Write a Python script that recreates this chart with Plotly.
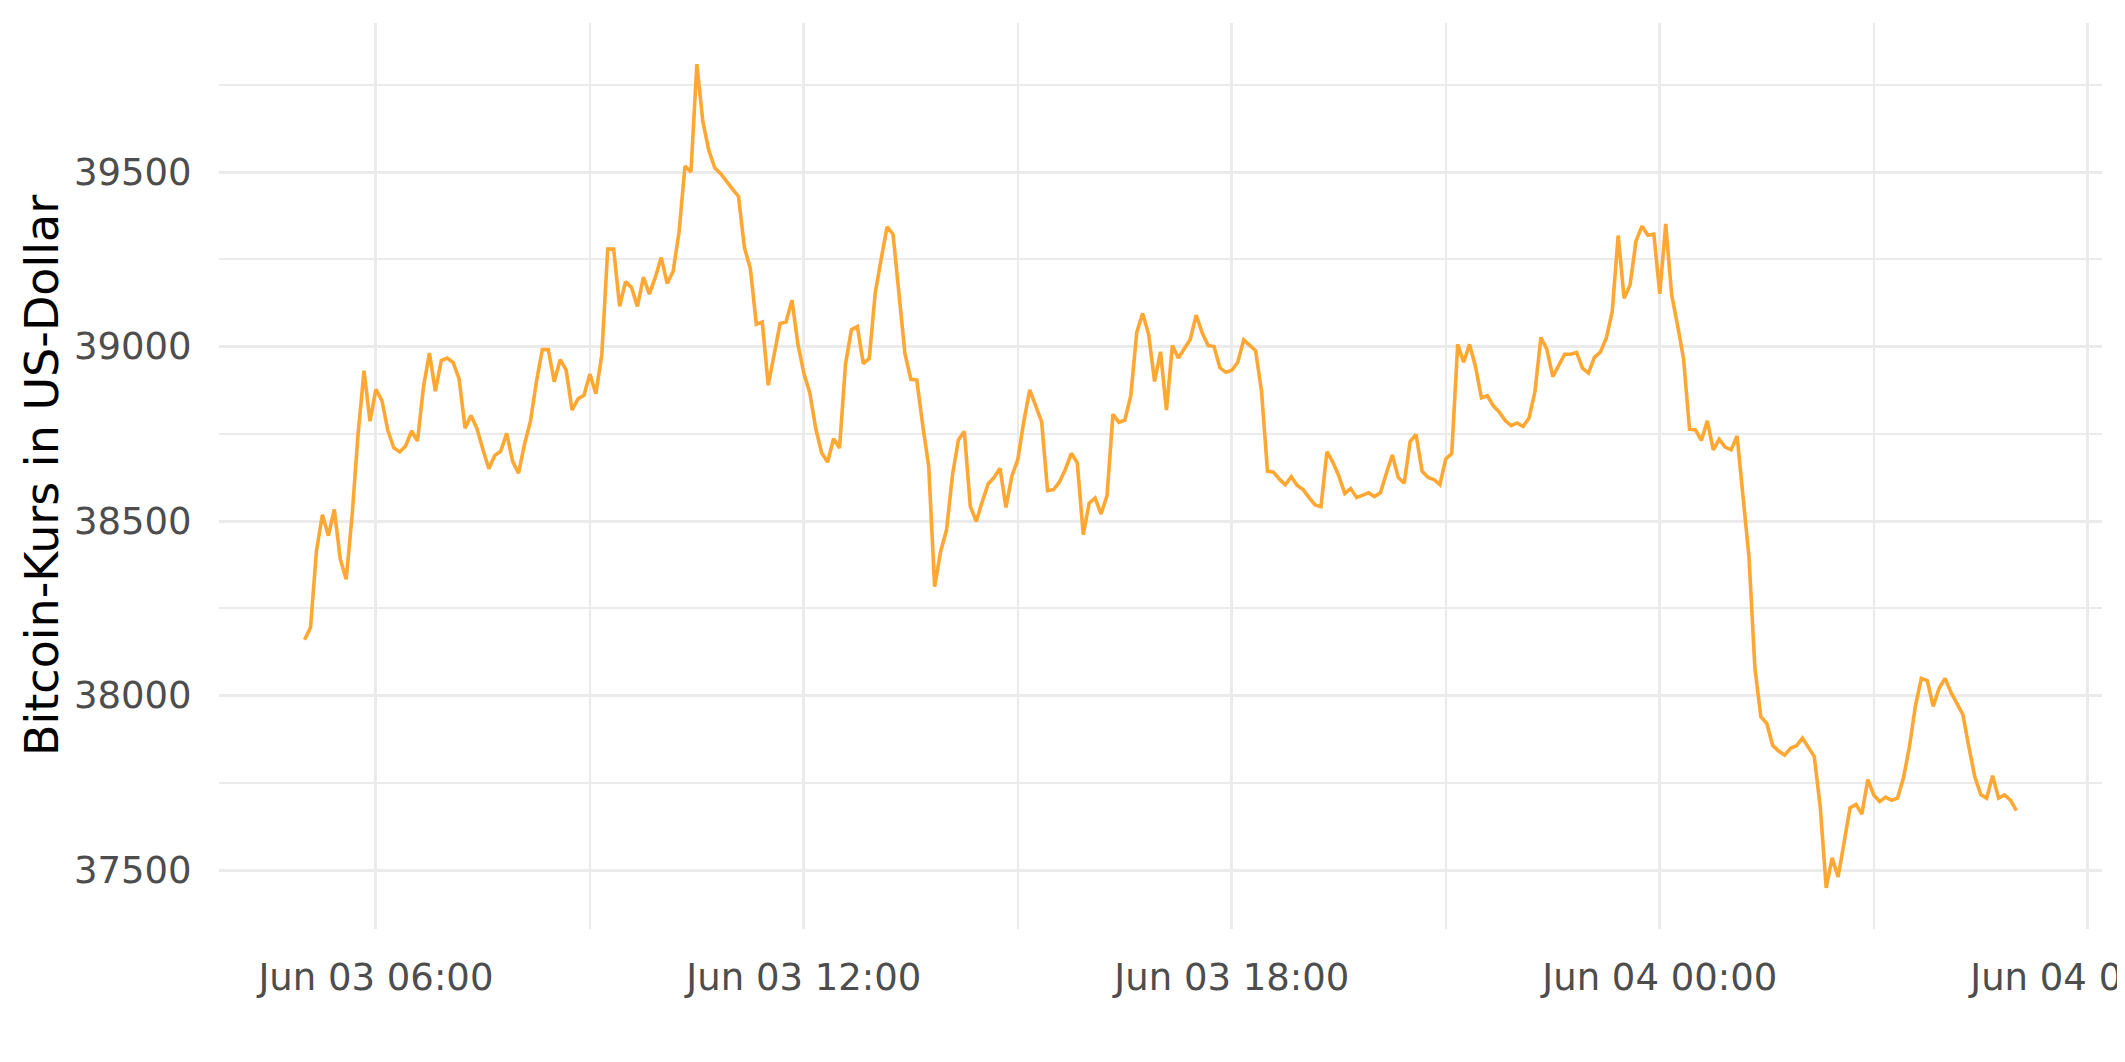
import pandas as pd
import plotly.graph_objects as go

# Bitcoin price (USD), 5-minute steps, 2021-06-03 05:00 .. 2021-06-04 05:00
start_time = "2021-06-03 05:00"
step = "5min"
h05 = [38160, 38195, 38415, 38518, 38458, 38533, 38391, 38333, 38517, 38749, 38931, 38786]
h06 = [38877, 38846, 38760, 38710, 38698, 38715, 38758, 38729, 38884, 38981, 38872, 38960]
h07 = [38967, 38954, 38907, 38766, 38802, 38765, 38705, 38650, 38688, 38700, 38751, 38671]
h08 = [38637, 38720, 38786, 38899, 38991, 38991, 38899, 38962, 38933, 38818, 38850, 38860]
h09 = [38921, 38865, 38976, 39279, 39279, 39115, 39186, 39169, 39115, 39199, 39150, 39198]
h10 = [39255, 39181, 39215, 39328, 39517, 39500, 39809, 39645, 39562, 39512, 39495, 39475]
h11 = [39451, 39430, 39283, 39223, 39064, 39070, 38889, 38977, 39066, 39070, 39133, 39006]
h12 = [38923, 38867, 38765, 38695, 38669, 38736, 38709, 38949, 39048, 39057, 38951, 38966]
h13 = [39153, 39250, 39343, 39322, 39153, 38980, 38906, 38904, 38774, 38657, 38312, 38412]
h14 = [38474, 38632, 38732, 38757, 38542, 38499, 38555, 38606, 38625, 38651, 38539, 38629]
h15 = [38677, 38785, 38876, 38828, 38785, 38587, 38590, 38612, 38648, 38694, 38667, 38461]
h16 = [38551, 38566, 38520, 38573, 38806, 38783, 38789, 38859, 39040, 39095, 39035, 38900]
h17 = [38985, 38818, 39003, 38967, 38994, 39020, 39090, 39040, 39003, 39000, 38939, 38926]
h18 = [38932, 38955, 39019, 39003, 38988, 38871, 38643, 38640, 38620, 38604, 38627, 38602]
h19 = [38590, 38567, 38546, 38541, 38699, 38668, 38629, 38579, 38593, 38567, 38573, 38581]
h20 = [38570, 38581, 38637, 38689, 38625, 38608, 38728, 38748, 38643, 38625, 38619, 38604]
h21 = [38678, 38693, 39006, 38955, 39006, 38942, 38853, 38859, 38830, 38812, 38788, 38773]
h22 = [38781, 38771, 38795, 38871, 39026, 38992, 38914, 38948, 38978, 38978, 38983, 38938]
h23 = [38924, 38969, 38984, 39024, 39100, 39318, 39138, 39176, 39302, 39345, 39319, 39322]
h00 = [39151, 39351, 39148, 39060, 38965, 38763, 38761, 38731, 38787, 38704, 38734, 38712]
h01 = [38704, 38744, 38569, 38398, 38080, 37939, 37920, 37857, 37841, 37829, 37849, 37856]
h02 = [37878, 37849, 37825, 37680, 37449, 37535, 37480, 37578, 37678, 37688, 37660, 37759]
h03 = [37715, 37696, 37709, 37700, 37706, 37764, 37853, 37969, 38049, 38043, 37969, 38021]
h04 = [38049, 38009, 37979, 37945, 37853, 37767, 37716, 37706, 37770, 37706, 37715, 37700]
h05_next = [37670]

prices = (h05 + h06 + h07 + h08 + h09 + h10 + h11 + h12 + h13 + h14 + h15 + h16
          + h17 + h18 + h19 + h20 + h21 + h22 + h23 + h00 + h01 + h02 + h03 + h04 + h05_next)
times = pd.date_range(start_time, periods=len(prices), freq=step)

y_title = "Bitcoin-Kurs in US-Dollar"
y_tick_step = 500
x_tick_step_hours = 6

FONT = "DejaVu Sans"
GRID = "#EBEBEB"

# ggplot-like 5% expansion
t0, t1 = times[0], times[-1]
tpad = (t1 - t0) * 0.05
ymin, ymax = min(prices), max(prices)
ypad = (ymax - ymin) * 0.05

fig = go.Figure()
fig.add_trace(go.Scatter(
    x=times, y=prices, mode="lines",
    line=dict(color="#FFA733", width=3.6),
    hoverinfo="x+y", showlegend=False,
))

# page body has an 8px default margin: size the figure to fill the rest
W, H = 2117, 1054
ml, mr, mt, mb = 211, 23, 15, 133

fig.update_layout(
    width=W, height=H,
    margin=dict(l=ml, r=mr, t=mt, b=mb, autoexpand=False),
    paper_bgcolor="white", plot_bgcolor="white",
    font=dict(family=FONT, color="#4D4D4D"),
    showlegend=False,
)

fig.update_xaxes(
    type="date",
    range=[t0 - tpad, t1 + tpad],
    tick0="2021-06-03 00:00", dtick=x_tick_step_hours * 3600 * 1000,
    tickformat="%b %d %H:%M",
    tickfont=dict(size=37, color="#4D4D4D", family=FONT),
    ticks="outside", ticklen=16, tickcolor="rgba(0,0,0,0)",
    showgrid=True, gridcolor=GRID, gridwidth=3.2,
    minor=dict(dtick=x_tick_step_hours / 2 * 3600 * 1000, showgrid=True,
               gridcolor=GRID, gridwidth=1.7, ticks=""),
    zeroline=False, showline=False,
    ticklabeloverflow="allow",
    automargin=False,
)

fig.update_yaxes(
    range=[ymin - ypad, ymax + ypad],
    dtick=y_tick_step, tick0=0,
    tickformat="d",
    tickfont=dict(size=37, color="#4D4D4D", family=FONT),
    ticks="outside", ticklen=19, tickcolor="rgba(0,0,0,0)",
    showgrid=True, gridcolor=GRID, gridwidth=3.2,
    minor=dict(dtick=y_tick_step / 2, showgrid=True, gridcolor=GRID,
               gridwidth=1.7, ticks=""),
    zeroline=False, showline=False,
    automargin=False,
)

fig.add_annotation(
    text=y_title, textangle=-90,
    xref="paper", yref="paper",
    x=(34 - ml) / (W - ml - mr), y=0.5,
    xanchor="center", yanchor="middle",
    showarrow=False,
    font=dict(size=46, color="black", family=FONT),
)

fig.write_html("out.html")
